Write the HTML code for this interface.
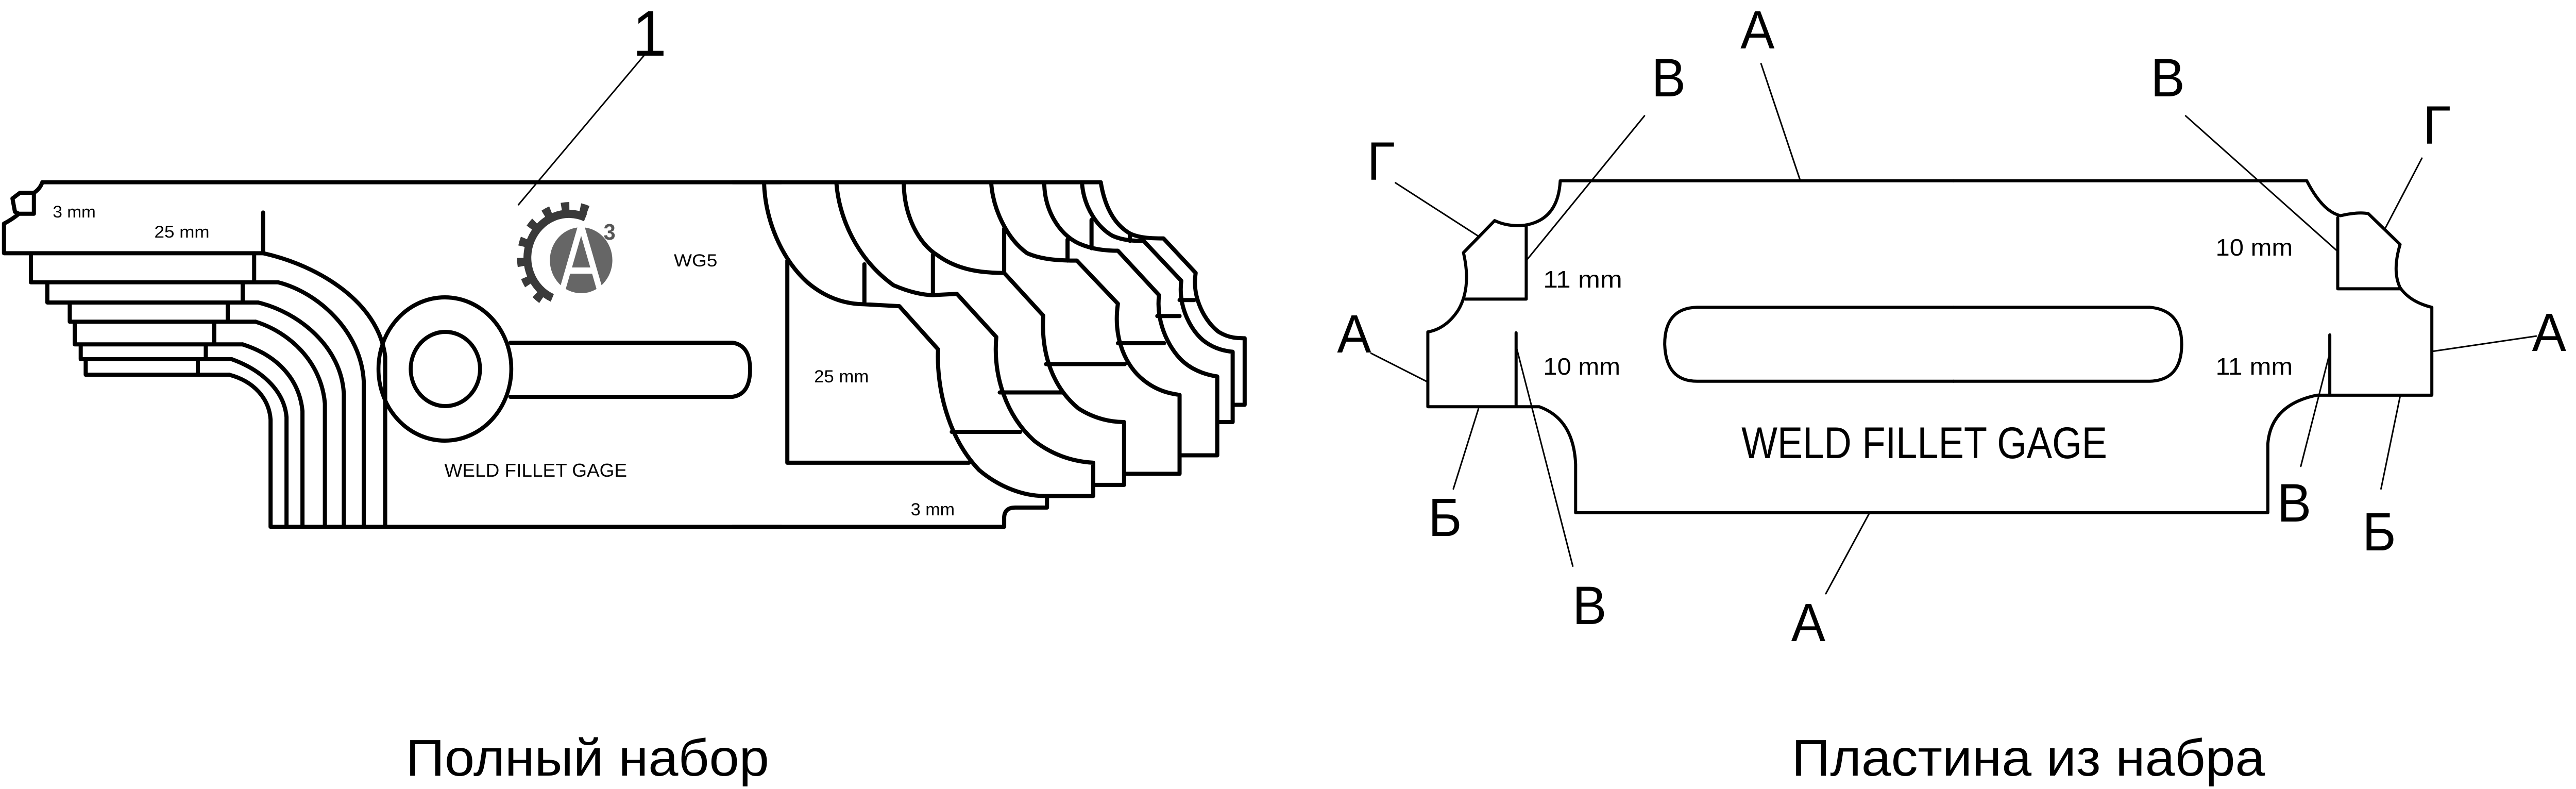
<!DOCTYPE html>
<html><head><meta charset="utf-8"><style>
html,body{margin:0;padding:0;background:#fff;width:100%;height:100%;overflow:hidden;}
svg{display:block;width:100vw;height:100vh;overflow:hidden;}
text{font-family:"Liberation Sans",sans-serif;fill:#000;}
.k{fill:none;stroke:#000;stroke-linejoin:round;stroke-linecap:round;}
</style></head><body>
<svg viewBox="0 0 5275 1531" preserveAspectRatio="none" xmlns="http://www.w3.org/2000/svg">
<rect width="5275" height="1531" fill="#fff"/>

<!-- LEFT DRAWING, zoom1 coords -->
<g transform="translate(0,300) scale(1.0204,0.4783)">
<g class="k" stroke-width="8">
<path vector-effect="non-scaling-stroke" d="M85,112 L1568,112"/>
<path vector-effect="non-scaling-stroke" d="M85,112 Q80,140 68,155 L40,155 L25,178 L30,232 L38,240 L68,240 L68,155 M38,240 Q25,262 8,280 L8,400 L528,400 M528,235 L528,400"/>
<path vector-effect="non-scaling-stroke" d="M62,400 L62,518 L558,518 M510,400 L510,518
M95,518 L95,600 L518,600 M487,518 L487,600
M140,600 L140,678 L513,678 M457,600 L457,678
M150,678 L150,770 L487,770 M430,678 L430,770
M162,770 L162,830 L465,830 M413,770 L413,830
M172,830 L172,893 L460,893 M397,830 L397,893"/>
<path vector-effect="non-scaling-stroke" d="M528,400 C640,450 760,600 773,820 L773,1510
M558,518 C640,560 725,720 730,920 L730,1510
M518,600 C600,640 685,780 690,970 L690,1510
M513,678 C580,720 645,840 652,1010 L652,1510
M487,770 C550,810 600,900 607,1040 L607,1510
M465,830 C520,870 570,950 575,1065 L575,1510
M460,893 C510,920 540,990 543,1075 L543,1510
M543,1510 L1568,1510"/>
</g>
</g>

<!-- ring and slot (full coords) -->
<g class="k" stroke-width="8">
<ellipse cx="911" cy="716" rx="136" ry="139"/>
<ellipse cx="912" cy="716" rx="71" ry="72"/>
<path d="M1045,665 L1500,665 Q1536,670 1536,717 Q1536,765 1500,770 L1045,770"/>
</g>

<!-- logo -->
<g>
<path d="M1199,422 A85,85 0 0 0 1131,578" fill="none" stroke="#3a3a3a" stroke-width="16"/>
<path d="M1203,410 A97,97 0 0 0 1126,588" fill="none" stroke="#3a3a3a" stroke-width="22" stroke-dasharray="16 22"/>
<circle cx="1190" cy="505" r="70" fill="#fff"/>
<circle cx="1190" cy="505" r="64" fill="#666"/>
<path d="M1190,437 L1150,568 M1190,437 L1230,568 M1163,525 L1217,525" stroke="#fff" stroke-width="12" fill="none"/>
<text x="1236" y="465" font-size="44" font-weight="bold" style="fill:#555">3</text>
</g>

<!-- LEFT DRAWING, zoom2 coords -->
<g transform="translate(1500,300) scale(0.7015,0.4783)">
<g class="k">
<path vector-effect="non-scaling-stroke" stroke-width="8" d="M0,112 L1075,112
M92,112 C95,260 140,420 220,520 C280,590 340,607 385,607 L487,615 L600,790 C595,950 630,1150 720,1280 C780,1350 850,1385 910,1385 L1053,1385 L1053,1250
M303,112 C310,250 360,420 470,530 C520,560 560,570 585,570 L655,565 L770,740 C760,900 800,1060 880,1160 C930,1215 990,1245 1053,1250 L1053,1340 L1143,1340 L1143,1085
M500,112 C500,240 540,360 600,410 C660,470 730,480 793,480 L907,653 C900,820 940,950 1010,1030 C1060,1075 1110,1085 1143,1085 L1143,1295 L1305,1295 L1305,975
M755,112 C760,220 800,340 860,400 C900,425 950,430 1005,430 L1125,605 C1110,750 1150,860 1200,915 C1240,960 1280,970 1305,975
M910,112 C910,220 950,320 1010,360 C1050,385 1090,390 1125,390 L1245,570 C1235,690 1280,800 1320,845 C1350,880 1390,895 1415,900 L1415,1220 L1305,1220
M1020,112 C1025,220 1070,300 1110,330 C1140,348 1170,350 1200,350 L1310,512 C1300,620 1340,720 1380,760 C1410,790 1440,797 1460,800 L1460,1085 L1415,1085
M1075,112 C1085,200 1110,280 1160,320 C1190,340 1230,340 1258,340 L1352,480 C1340,580 1380,680 1420,720 C1450,745 1475,745 1495,745 L1495,1015 L1460,1015
M160,430 L160,1250 L690,1250
M385,445 L385,607 M585,405 L585,570 M793,300 L793,480 M978,345 L978,430 M1048,265 L1048,380 M1160,320 L1160,350
M640,1125 L840,1125 M780,965 L960,965 M915,850 L1145,850 M1125,765 L1260,765 M1240,655 L1305,655 M1305,590 L1348,590
M0,1510 L793,1510 L793,1470 Q795,1432 825,1432 L918,1432 L918,1385"/>
</g>
</g>

<!-- leader 1 -->
<line x1="1061" y1="398" x2="1323" y2="103" stroke="#000" stroke-width="3"/>
<text x="1330" y="108" font-size="125" text-anchor="middle">1</text>

<!-- left texts -->
<text x="108" y="422" font-size="32" textLength="88" lengthAdjust="spacingAndGlyphs">3 mm</text>
<text x="316" y="461" font-size="32" textLength="113" lengthAdjust="spacingAndGlyphs">25 mm</text>
<text x="1380" y="517" font-size="34" textLength="89" lengthAdjust="spacingAndGlyphs">WG5</text>
<text x="910" y="925" font-size="36" textLength="374" lengthAdjust="spacingAndGlyphs">WELD FILLET GAGE</text>
<text x="1667" y="742" font-size="34" textLength="112" lengthAdjust="spacingAndGlyphs">25 mm</text>
<text x="1865" y="1000" font-size="34" textLength="90" lengthAdjust="spacingAndGlyphs">3 mm</text>

<!-- RIGHT DRAWING, zoom3 coords -->
<g transform="translate(2700,0) scale(0.8291,0.7972)">
<g class="k">
<path vector-effect="non-scaling-stroke" stroke-width="6" d="M1568,440 L597,440 Q592,535 510,548 Q470,553 435,537 L358,615 Q378,700 345,755 Q315,800 270,808 L270,990 L545,990 Q630,1020 635,1130 L635,1248 L1568,1248
M513,548 L513,728 L362,728 M488,810 L488,990
M1568,748 L935,748 Q855,750 855,838 Q858,928 935,928 L1568,928"/>
<path vector-effect="non-scaling-stroke" stroke-width="3" d="M190,445 L395,575 M805,282 L515,632 M1093,155 L1190,440 M130,860 L270,930 M395,995 L333,1190 M490,850 L628,1378 M1360,1250 L1253,1445"/>
</g>
</g>
<!-- zoom4 coords -->
<g transform="translate(4000,0) scale(0.8131,0.7972)">
<g class="k">
<path vector-effect="non-scaling-stroke" stroke-width="6" d="M0,440 L890,440 Q930,515 975,525 Q1020,515 1045,520 L1125,595 Q1105,660 1125,700 Q1150,735 1205,748 L1205,962 L915,962 Q800,985 792,1080 L792,1248 L0,1248
M968,530 L968,703 L1125,703 M948,815 L948,962
M0,748 L495,748 Q575,755 575,838 Q575,925 495,928 L0,928"/>
<path vector-effect="non-scaling-stroke" stroke-width="3" d="M585,282 L968,612 M1180,385 L1088,555 M1468,818 L1208,855 M945,870 L875,1135 M1125,965 L1077,1190"/>
</g>
</g>

<!-- right labels -->
<g font-size="105" text-anchor="middle">
<text x="3599" y="94">А</text>
<text x="3417" y="187">В</text>
<text x="2828" y="349">Г</text>
<text x="2773" y="684">А</text>
<text x="2959" y="1040">Б</text>
<text x="3255" y="1211">В</text>
<text x="3703" y="1244">А</text>
<text x="4439" y="187">В</text>
<text x="4990" y="279">Г</text>
<text x="5220" y="681">А</text>
<text x="4698" y="1012">В</text>
<text x="4872" y="1068">Б</text>
</g>
<text x="3160" y="558" font-size="46" textLength="162" lengthAdjust="spacingAndGlyphs">11 mm</text>
<text x="3160" y="727" font-size="46" textLength="158" lengthAdjust="spacingAndGlyphs">10 mm</text>
<text x="4537" y="496" font-size="46" textLength="158" lengthAdjust="spacingAndGlyphs">10 mm</text>
<text x="4537" y="727" font-size="46" textLength="158" lengthAdjust="spacingAndGlyphs">11 mm</text>
<text x="3566" y="889" font-size="86" textLength="749" lengthAdjust="spacingAndGlyphs">WELD FILLET GAGE</text>

<!-- captions -->
<text x="831" y="1505" font-size="100" textLength="744" lengthAdjust="spacingAndGlyphs">Полный набор</text>
<text x="3669" y="1505" font-size="100" textLength="969" lengthAdjust="spacingAndGlyphs">Пластина из набра</text>
</svg>
</body></html>
